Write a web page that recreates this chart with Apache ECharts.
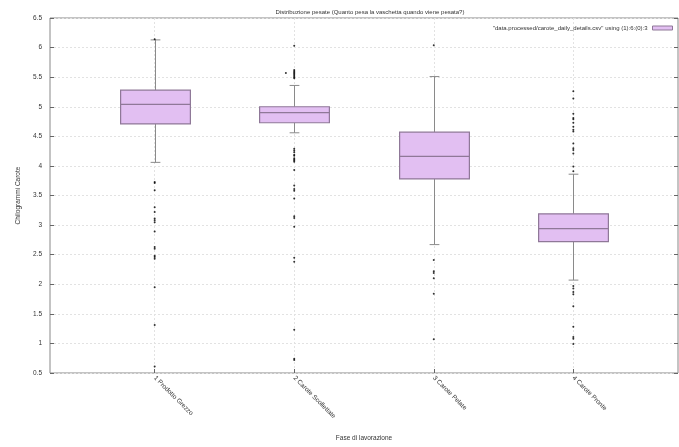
<!DOCTYPE html>
<html>
<head>
<meta charset="utf-8">
<script src="https://cdn.jsdelivr.net/npm/echarts@6/dist/echarts.min.js"></script>
<style>html,body{margin:0;padding:0;background:#fff}#c{width:679px;height:447px}</style>
</head>
<body>
<div id="c"></div>
<script>
// ---- data ----
var categories = ["1 Prodotto Grezzo", "2 Carote Scollettate", "3 Carote Pelate", "4 Carote Pronte"];
var positions = [1, 2, 3, 4];
var whiskerLow  = [4.06, 4.56, 2.67, 2.07];
var q1          = [4.71, 4.73, 3.78, 2.72];
var medians     = [5.04, 4.90, 4.16, 2.94];
var q3          = [5.28, 5.00, 4.57, 3.19];
var whiskerHigh = [6.13, 5.36, 5.51, 3.86];
var outliers1 = [6.14, 3.73, 3.71, 3.59, 3.30, 3.22, 3.11, 3.08, 3.05, 2.89, 2.63, 2.60, 2.48, 2.46, 2.43, 1.95, 1.31, 0.61];
var outliers2 = [6.03, 5.62, 5.60, 5.58, 5.56, 5.54, 5.52, 5.50, 5.48, 4.29, 4.26, 4.23, 4.19, 4.17, 4.13, 4.11, 4.09, 4.07, 3.93, 3.67, 3.61, 3.58, 3.45, 3.15, 3.12, 2.97, 2.45, 2.38, 1.23, 0.74, 0.72];
var outliers2Offset = [[1.94, 5.57]];
var outliers3 = [6.04, 2.41, 2.22, 2.19, 2.10, 1.84, 1.07];
var outliers4 = [5.26, 5.14, 4.88, 4.81, 4.79, 4.73, 4.66, 4.61, 4.58, 4.38, 4.30, 4.27, 4.21, 3.99, 3.91, 1.97, 1.93, 1.87, 1.83, 1.63, 1.28, 1.11, 1.08, 0.99];
var yTicks = [0.5, 6.5, 0.5]; // min, max, step
var titleText = "Distribuzione pesate (Quanto pesa la vaschetta quando viene pesata?)";
var legendText = '"data.processed/carote_daily_details.csv" using (1):6:(0):3';

// ---- build ----
var boxData = positions.map(function (p, i) {
  return [p, whiskerLow[i], q1[i], medians[i], q3[i], whiskerHigh[i]];
});
var outlierData = [];
[outliers1, outliers2, outliers3, outliers4].forEach(function (arr, i) {
  arr.forEach(function (v) { outlierData.push([positions[i], v]); });
});
outliers2Offset.forEach(function (p) { outlierData.push(p); });

var FILL = '#e2bff2', EDGE = '#8f7898', WHISK = '#8a8a8a';
var BOXW = 0.5, CAPW = 0.07;

function renderBox(params, api) {
  var x = api.value(0);
  var lo = api.coord([x, api.value(1)]);
  var b1 = api.coord([x, api.value(2)]);
  var md = api.coord([x, api.value(3)]);
  var b3 = api.coord([x, api.value(4)]);
  var hi = api.coord([x, api.value(5)]);
  var bw = api.size([BOXW, 0])[0];
  var cw = api.size([CAPW, 0])[0];
  var cx = Math.round(lo[0]) + 0.5;
  var ls = { stroke: WHISK, lineWidth: 1 };
  return {
    type: 'group',
    children: [
      { type: 'line', shape: { x1: cx, y1: lo[1], x2: cx, y2: b1[1] }, style: ls },
      { type: 'line', shape: { x1: cx, y1: b3[1], x2: cx, y2: hi[1] }, style: ls },
      { type: 'line', shape: { x1: cx - cw / 2, y1: lo[1], x2: cx + cw / 2, y2: lo[1] }, style: ls },
      { type: 'line', shape: { x1: cx - cw / 2, y1: hi[1], x2: cx + cw / 2, y2: hi[1] }, style: ls },
      { type: 'rect', shape: { x: cx - bw / 2, y: b3[1], width: bw, height: b1[1] - b3[1] },
        style: { fill: FILL, stroke: EDGE, lineWidth: 1.2 } },
      { type: 'line', shape: { x1: cx - bw / 2, y1: md[1], x2: cx + bw / 2, y2: md[1] },
        style: { stroke: EDGE, lineWidth: 1.2 } }
    ]
  };
}

var FONT = 'Liberation Sans';
var GRID = { color: '#e2e2e2', type: [2, 2], width: 1 };
var chart = echarts.init(document.getElementById('c'), null, { renderer: 'canvas' });
chart.setOption({
  animation: false,
  backgroundColor: '#fff',
  textStyle: { fontFamily: FONT },
  title: {
    text: titleText, left: 365, top: 4, textAlign: 'center',
    textStyle: { fontSize: 6, fontWeight: 'normal', color: '#333', fontFamily: FONT }
  },
  legend: {
    right: 1, top: 20, align: 'right', itemWidth: 20, itemHeight: 4,
    itemGap: 0,
    textStyle: { fontSize: 6, color: '#333', fontFamily: FONT },
    data: [{ name: legendText, icon: 'rect', itemStyle: { color: FILL, borderColor: EDGE, borderWidth: 1 } }]
  },
  grid: { left: 50, right: 1, top: 18, bottom: 69, show: true, borderColor: '#888', borderWidth: 1, containLabel: false },
  xAxis: {
    type: 'value', min: 0.25, max: 4.75, interval: 0.25,
    name: 'Fase di lavorazione', nameLocation: 'middle', nameGap: 62,
    nameTextStyle: { fontSize: 6.5, color: '#333', fontFamily: FONT },
    axisLine: { show: false },
    axisTick: { show: true, inside: true, length: 4, lineStyle: { color: '#666' }, customValues: positions },
    axisLabel: {
      customValues: positions, rotate: -45, fontSize: 6.5, color: '#333', margin: 4, fontFamily: FONT,
      formatter: function (v) { var i = positions.indexOf(v); return i >= 0 ? categories[i] : ''; }
    },
    splitLine: { show: true, lineStyle: GRID }
  },
  yAxis: [{
    type: 'value', min: yTicks[0], max: yTicks[1], interval: yTicks[2],
    name: 'Chilogrammi Carote', nameLocation: 'middle', nameGap: 28, nameRotate: 90,
    nameTextStyle: { fontSize: 6.5, color: '#333', fontFamily: FONT },
    axisLine: { show: false },
    axisTick: { show: true, inside: true, length: 4, lineStyle: { color: '#666' } },
    axisLabel: { fontSize: 6.5, color: '#333', margin: 8, fontFamily: FONT },
    splitLine: { show: true, lineStyle: GRID }
  }, {
    type: 'value', position: 'right', min: yTicks[0], max: yTicks[1], interval: yTicks[2],
    axisLine: { show: false },
    axisTick: { show: true, inside: true, length: 4, lineStyle: { color: '#666' } },
    axisLabel: { show: false }, splitLine: { show: false }
  }],
  series: [{
    name: legendText, type: 'custom', renderItem: renderBox, data: boxData,
    itemStyle: { color: FILL, borderColor: EDGE },
    encode: { x: 0, y: [1, 2, 3, 4, 5] }, z: 3
  }, {
    name: 'outliers', type: 'scatter', data: outlierData, symbolSize: 2,
    itemStyle: { color: '#000' }, z: 4, silent: true
  }]
});
</script>
</body>
</html>
